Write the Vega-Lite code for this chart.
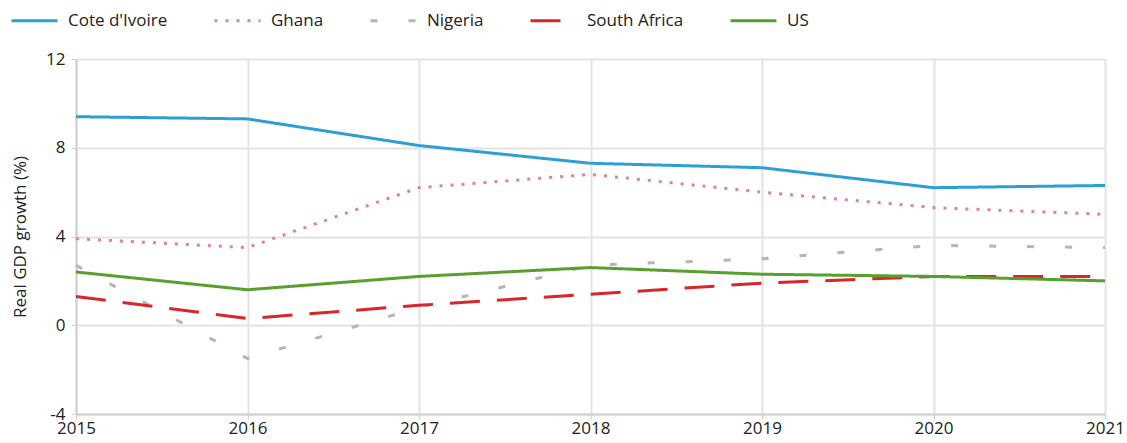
{
  "$schema": "https://vega.github.io/schema/vega-lite/v6.json",
  "width": 1029,
  "height": 355,
  "autosize": "none",
  "padding": {"left": 76, "top": 59, "right": 22, "bottom": 29},
  "background": "white",
  "config": {
    "font": "Open Sans",
    "view": {"stroke": null}
  },
  "data": {
    "values": [
      {"country": "Cote d'Ivoire", "year": 2015, "growth": 9.4},
      {"country": "Cote d'Ivoire", "year": 2016, "growth": 9.3},
      {"country": "Cote d'Ivoire", "year": 2017, "growth": 8.1},
      {"country": "Cote d'Ivoire", "year": 2018, "growth": 7.3},
      {"country": "Cote d'Ivoire", "year": 2019, "growth": 7.1},
      {"country": "Cote d'Ivoire", "year": 2020, "growth": 6.2},
      {"country": "Cote d'Ivoire", "year": 2021, "growth": 6.3},
      {"country": "Ghana", "year": 2015, "growth": 3.9},
      {"country": "Ghana", "year": 2016, "growth": 3.5},
      {"country": "Ghana", "year": 2017, "growth": 6.2},
      {"country": "Ghana", "year": 2018, "growth": 6.8},
      {"country": "Ghana", "year": 2019, "growth": 6.0},
      {"country": "Ghana", "year": 2020, "growth": 5.3},
      {"country": "Ghana", "year": 2021, "growth": 5.0},
      {"country": "Nigeria", "year": 2015, "growth": 2.7},
      {"country": "Nigeria", "year": 2016, "growth": -1.5},
      {"country": "Nigeria", "year": 2017, "growth": 0.8},
      {"country": "Nigeria", "year": 2018, "growth": 2.7},
      {"country": "Nigeria", "year": 2019, "growth": 3.0},
      {"country": "Nigeria", "year": 2020, "growth": 3.6},
      {"country": "Nigeria", "year": 2021, "growth": 3.5},
      {"country": "South Africa", "year": 2015, "growth": 1.3},
      {"country": "South Africa", "year": 2016, "growth": 0.3},
      {"country": "South Africa", "year": 2017, "growth": 0.9},
      {"country": "South Africa", "year": 2018, "growth": 1.4},
      {"country": "South Africa", "year": 2019, "growth": 1.9},
      {"country": "South Africa", "year": 2020, "growth": 2.2},
      {"country": "South Africa", "year": 2021, "growth": 2.2},
      {"country": "US", "year": 2015, "growth": 2.4},
      {"country": "US", "year": 2016, "growth": 1.6},
      {"country": "US", "year": 2017, "growth": 2.2},
      {"country": "US", "year": 2018, "growth": 2.6},
      {"country": "US", "year": 2019, "growth": 2.3},
      {"country": "US", "year": 2020, "growth": 2.2},
      {"country": "US", "year": 2021, "growth": 2.0}
    ]
  },
  "mark": {"type": "line", "strokeWidth": 3, "strokeCap": "butt"},
  "encoding": {
    "x": {
      "field": "year",
      "type": "quantitative",
      "scale": {"domain": [2015, 2021], "nice": false, "zero": false},
      "axis": {
        "values": [2015, 2016, 2017, 2018, 2019, 2020, 2021],
        "format": "d",
        "title": null,
        "grid": true,
        "gridColor": "#e3e3e3",
        "gridWidth": 2,
        "domainColor": "#d0d0d0",
        "domainWidth": 2,
        "tickColor": "#d0d0d0",
        "tickSize": 5,
        "labelFontSize": 17,
        "labelColor": "#222",
        "labelPadding": 1,
        "labelOverlap": false,
        "labelFlush": false
      }
    },
    "y": {
      "field": "growth",
      "type": "quantitative",
      "scale": {"domain": [-4, 12], "nice": false},
      "axis": {
        "values": [-4, 0, 4, 8, 12],
        "labelExpr": "'' + datum.value",
        "title": "Real GDP growth (%)",
        "titleFontSize": 17,
        "titleFontWeight": "normal",
        "titleColor": "#222",
        "titlePadding": 16,
        "grid": true,
        "gridColor": "#e3e3e3",
        "gridWidth": 2,
        "domainColor": "#d0d0d0",
        "domainWidth": 2,
        "tickColor": "#d0d0d0",
        "tickSize": 5,
        "labelFontSize": 17,
        "labelColor": "#222",
        "labelPadding": 6
      }
    },
    "color": {
      "field": "country",
      "type": "nominal",
      "scale": {
        "domain": ["Cote d'Ivoire", "Ghana", "Nigeria", "South Africa", "US"],
        "range": ["#2e9fd4", "#e07fa6", "#b5b5b5", "#d9262b", "#58a02c"]
      },
      "legend": {
        "title": null,
        "orient": "none",
        "direction": "horizontal",
        "legendX": -66,
        "legendY": -63,
        "symbolType": "stroke",
        "symbolSize": 2116,
        "symbolStrokeWidth": 3,
        "labelFontSize": 17,
        "labelColor": "#222",
        "labelOffset": 9,
        "columnPadding": 40
      }
    },
    "strokeDash": {
      "field": "country",
      "type": "nominal",
      "scale": {
        "domain": ["Cote d'Ivoire", "Ghana", "Nigeria", "South Africa", "US"],
        "range": [[1, 0], [3, 8], [7, 31], [30, 17], [1, 0]]
      },
      "legend": null
    }
  }
}
